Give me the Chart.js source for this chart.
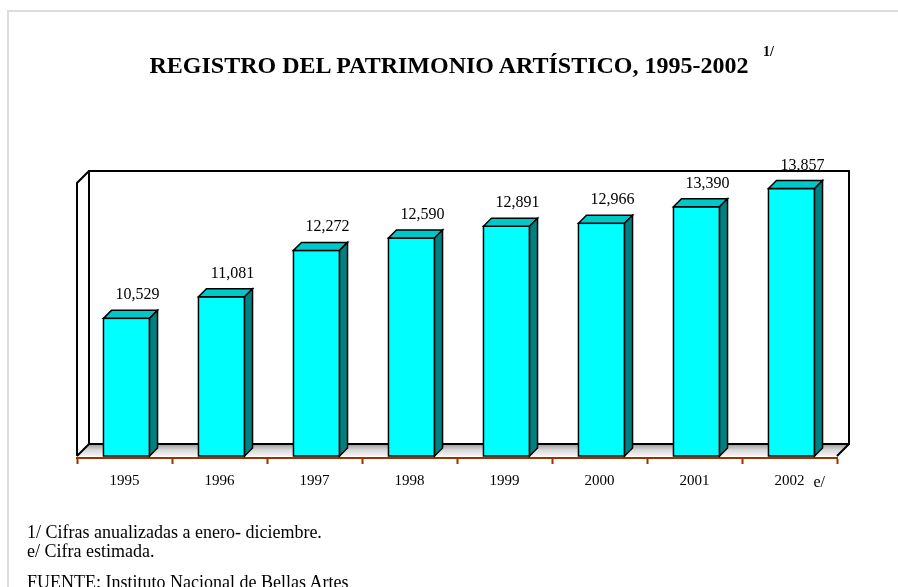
<!DOCTYPE html>
<html>
<head>
<meta charset="utf-8">
<script src="https://cdn.jsdelivr.net/npm/chart.js@4.4.0/dist/chart.umd.min.js"></script>
<style>
html,body{margin:0;padding:0;background:#fff;width:898px;height:587px;overflow:hidden;}
#wrap{position:relative;width:898px;height:587px;overflow:hidden;font-family:"Liberation Serif","Times New Roman",serif;color:#000;}
#frame{position:absolute;left:7px;top:10px;width:1000px;height:1000px;border-left:2px solid #dcdcdc;border-top:2px solid #dcdcdc;}
#c{position:absolute;left:0;top:0;}
#title{position:absolute;left:0;width:898px;top:53px;text-align:center;font-weight:bold;font-size:24px;line-height:24px;white-space:nowrap;}
#sup{position:absolute;left:763px;top:45px;font-weight:bold;font-size:14px;line-height:14px;white-space:nowrap;}
.note{position:absolute;left:27px;font-size:18px;line-height:18px;white-space:nowrap;}
</style>
</head>
<body>
<div id="wrap">
  <div id="frame"></div>
  <canvas id="c" width="898" height="587"></canvas>
  <div id="title">REGISTRO DEL PATRIMONIO ARTÍSTICO, 1995-2002</div>
  <div id="sup">1/</div>
  <div class="note" style="top:523px">1/ Cifras anualizadas a enero- diciembre.</div>
  <div class="note" style="top:542px">e/ Cifra estimada.</div>
  <div class="note" style="top:573px">FUENTE: Instituto Nacional de Bellas Artes</div>
</div>
<script>
// ---- data ----
const categories = ['1995', '1996', '1997', '1998', '1999', '2000', '2001', '2002'];
const values = [10529, 11081, 12272, 12590, 12891, 12966, 13390, 13857];
const categoryNotes = ['', '', '', '', '', '', '', 'e/'];
const yMin = 7000;
const yMax = 14000;

// ---- 3D styling plugin ----
const LIFT = 2, SHIFT = 2, WALL = 12, DEPTH = 8;
const FONT = '16px "Liberation Serif", "Times New Roman", serif';

function poly(ctx, pts, fill) {
  ctx.beginPath();
  ctx.moveTo(pts[0][0], pts[0][1]);
  for (let i = 1; i < pts.length; i++) ctx.lineTo(pts[i][0], pts[i][1]);
  ctx.closePath();
  ctx.fillStyle = fill;
  ctx.fill();
  ctx.stroke();
}

const threeD = {
  id: 'threeD',
  afterDatasetsUpdate(chart) {
    chart.getDatasetMeta(0).data.forEach(el => { el.y -= LIFT; el.base -= LIFT; el.x += SHIFT; });
  },
  beforeDatasetsDraw(chart) {
    const ctx = chart.ctx, ys = chart.scales.y, a = chart.chartArea;
    const L = a.left, R = a.right;
    const B = ys.getPixelForValue(yMin) - LIFT, T = ys.getPixelForValue(yMax) - LIFT;
    ctx.save();
    ctx.fillStyle = '#fff';
    ctx.fillRect(L + WALL, T - WALL, R - L, B - T);
    const g = ctx.createLinearGradient(0, B - WALL, 0, B);
    g.addColorStop(0, '#9a9a9a');
    g.addColorStop(0.5, '#d8d8d8');
    g.addColorStop(1, '#f4f4f4');
    ctx.fillStyle = g;
    ctx.beginPath();
    ctx.moveTo(L, B); ctx.lineTo(L + WALL, B - WALL); ctx.lineTo(R + WALL, B - WALL); ctx.lineTo(R, B);
    ctx.closePath(); ctx.fill();
    ctx.lineWidth = 2; ctx.strokeStyle = '#000'; ctx.lineJoin = 'miter';
    ctx.strokeRect(L + WALL, T - WALL, R - L, B - T);
    ctx.beginPath();
    ctx.moveTo(L, B); ctx.lineTo(L, T); ctx.lineTo(L + WALL, T - WALL);
    ctx.moveTo(L, B); ctx.lineTo(L + WALL, B - WALL);
    ctx.moveTo(R, B); ctx.lineTo(R + WALL, B - WALL);
    ctx.stroke();
    ctx.restore();
  },
  afterDatasetsDraw(chart) {
    const ctx = chart.ctx, xs = chart.scales.x;
    const meta = chart.getDatasetMeta(0);
    ctx.save();
    ctx.lineWidth = 1.5; ctx.strokeStyle = '#000'; ctx.lineJoin = 'miter';
    meta.data.forEach((el, i) => {
      const xl = el.x - el.width / 2, xr = el.x + el.width / 2, yt = el.y, yb = el.base;
      ctx.strokeRect(xl, yt, xr - xl, yb - yt);
      poly(ctx, [[xl, yt], [xl + DEPTH, yt - DEPTH], [xr + DEPTH, yt - DEPTH], [xr, yt]], '#00C8C8');
      poly(ctx, [[xr, yt], [xr + DEPTH, yt - DEPTH], [xr + DEPTH, yb - DEPTH], [xr, yb]], '#008080');
      ctx.fillStyle = '#000';
      ctx.font = FONT;
      ctx.textAlign = 'center';
      ctx.textBaseline = 'alphabetic';
      ctx.fillText(values[i].toLocaleString('en-US'), el.x + 11, yt - 19);
    });
    ctx.font = '16px "Liberation Serif", "Times New Roman", serif';
    categoryNotes.forEach((n, i) => {
      if (!n) return;
      ctx.textAlign = 'left';
      ctx.fillText(n, xs.getPixelForValue(i) + 24, 487);
    });
    ctx.restore();
  }
};

new Chart(document.getElementById('c'), {
  type: 'bar',
  data: {
    labels: categories,
    datasets: [{
      data: values,
      base: yMin,
      backgroundColor: '#00FFFF',
      borderWidth: 0,
      barPercentage: 0.485,
      categoryPercentage: 1
    }]
  },
  options: {
    responsive: false,
    animation: false,
    devicePixelRatio: 1,
    layout: { padding: { left: 77, right: 61, top: 185, bottom: 89 } },
    plugins: { legend: { display: false }, title: { display: false }, tooltip: { enabled: false } },
    scales: {
      x: {
        afterFit: s => { s.height = 40; },
        grid: { display: true, drawOnChartArea: false, drawTicks: true, tickLength: 6, tickColor: '#993300', tickWidth: 2, offset: true },
        border: { display: true, color: '#993300', width: 2 },
        ticks: { color: '#000', padding: 8, font: { family: '"Liberation Serif", "Times New Roman", serif', size: 15 } }
      },
      y: { display: false, min: yMin, max: yMax }
    }
  },
  plugins: [threeD]
});
</script>
</body>
</html>
